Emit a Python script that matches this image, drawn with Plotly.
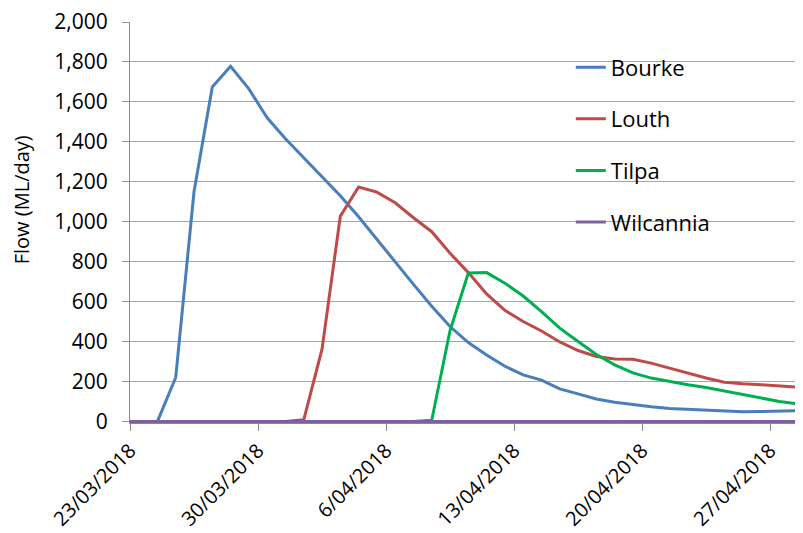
import plotly.graph_objects as go
import pandas as pd

# Dates: first reading at start of 23/03, then daily readings at midday
dates = ["2018-03-23 00:00"] + [
    (pd.Timestamp("2018-03-24 12:00") + pd.Timedelta(days=i)).strftime("%Y-%m-%d %H:%M")
    for i in range(36)
]

bourke = [0, 0, 220, 1150, 1675, 1778, 1665, 1520, 1415, 1320, 1225, 1130, 1025,
          910, 800, 686, 577, 475, 395, 333, 276, 233, 207, 163, 138, 112, 96,
          84, 73, 65, 61, 58, 51, 48, 49, 52, 54]
louth = [0, 0, 0, 0, 0, 0, 0, 0, 0, 8, 362, 1027, 1174, 1148, 1095, 1020, 950,
         842, 745, 638, 556, 500, 453, 398, 355, 325, 313, 311, 292, 267, 242,
         217, 196, 188, 184, 176, 171]
tilpa = [0, 0, 0, 0, 0, 0, 0, 0, 0, 0, 0, 0, 0, 0, 0, 0, 6, 455, 743, 745, 692,
         628, 550, 467, 400, 335, 283, 243, 217, 200, 184, 170, 152, 134, 116,
         100, 88]
wilcannia = [0] * 37

series = [("Bourke", bourke, "#4A7EBB"),
          ("Louth", louth, "#BE4B48"),
          ("Tilpa", tilpa, "#00B050"),
          ("Wilcannia", wilcannia, "#7D60A0")]

y_ticks = [0, 200, 400, 600, 800, 1000, 1200, 1400, 1600, 1800, 2000]
y_tick_text = [f"{v:,}" for v in y_ticks]

FONT = "Open Sans, Lato, DejaVu Sans, sans-serif"

fig = go.Figure()
for name, vals, col in series:
    fig.add_trace(go.Scatter(x=dates, y=vals, mode="lines", name=name,
                             legendgroup=name,
                             line=dict(color=col, width=3)))

# page body has an 8px margin, so the figure is sized to fit the window
fig.update_layout(
    width=795, height=525,
    margin=dict(l=122, r=0, t=14, b=110, pad=0),
    plot_bgcolor="white", paper_bgcolor="white",
    font=dict(family=FONT, size=20, color="black"),
    showlegend=True,
    legend=dict(x=0.655, y=0.939, xanchor="left", yanchor="top",
                bgcolor="rgba(0,0,0,0)", borderwidth=0,
                font=dict(size=22, family=FONT),
                tracegroupgap=20),
    shapes=[dict(type="rect", xref="paper", yref="paper",
                 x0=0.584, x1=0.945, y0=0.421, y1=0.969,
                 fillcolor="white", line=dict(width=0), layer="between")],
    annotations=[dict(text="Flow (ML/day)", xref="paper", yref="paper",
                      x=-0.161, y=0.557, xanchor="center", yanchor="middle",
                      textangle=-90, showarrow=False,
                      font=dict(size=20, family=FONT, color="black"))],
)

fig.update_xaxes(
    type="date", automargin=False,
    range=["2018-03-23 00:00", "2018-04-28 19:12"],
    tick0="2018-03-23", dtick=7 * 24 * 3600 * 1000,
    tickformat="%-d/%m/%Y", tickangle=-45,
    ticks="outside", ticklen=7, tickcolor="#888888", tickwidth=1,
    showgrid=False, showline=True, linecolor="#888888", linewidth=1,
    zeroline=False, tickfont=dict(size=20), ticklabeloverflow="allow",
)
fig.update_yaxes(
    automargin=False,
    range=[-8, 2000], tickvals=y_ticks, ticktext=y_tick_text,
    ticks="outside", ticklen=7, tickcolor="#999999", tickwidth=1,
    showgrid=True, gridcolor="#A6A6A6", gridwidth=1.2,
    showline=True, linecolor="#888888", linewidth=1,
    zeroline=False, tickfont=dict(size=21), ticklabelstandoff=10,
    ticklabeloverflow="allow",
)

fig.write_html("out.html")
